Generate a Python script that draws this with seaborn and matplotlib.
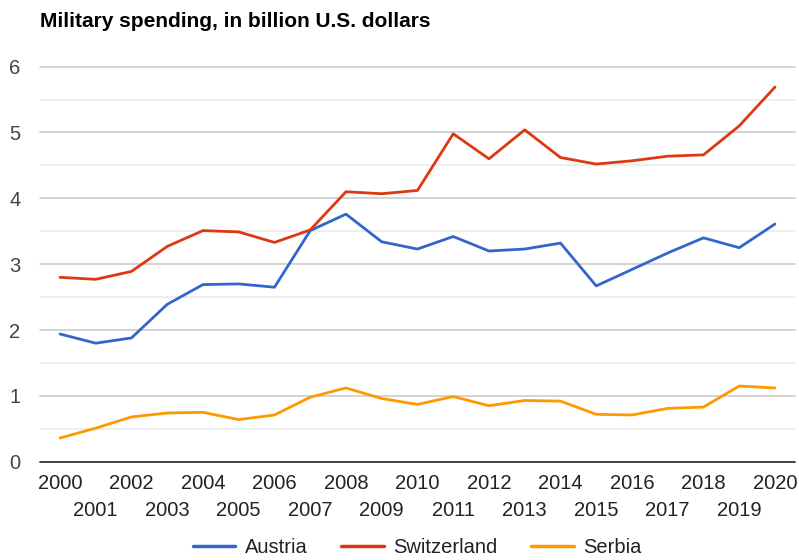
import pandas as pd
import matplotlib
matplotlib.use("Agg")
import matplotlib.pyplot as plt
import seaborn as sns

sns.set_theme(style="white")
plt.rcParams["font.family"] = ["Liberation Sans", "DejaVu Sans"]

years = list(range(2000, 2021))
austria = [1.94, 1.80, 1.88, 2.39, 2.69, 2.70, 2.65, 3.51, 3.76, 3.34, 3.23,
           3.42, 3.20, 3.23, 3.32, 2.67, 2.92, 3.17, 3.40, 3.25, 3.61]
switzerland = [2.80, 2.77, 2.89, 3.27, 3.51, 3.49, 3.33, 3.52, 4.10, 4.07, 4.12,
               4.98, 4.60, 5.04, 4.62, 4.52, 4.57, 4.64, 4.66, 5.10, 5.69]
serbia = [0.36, 0.51, 0.68, 0.74, 0.75, 0.64, 0.71, 0.98, 1.12, 0.96, 0.87,
          0.99, 0.85, 0.93, 0.92, 0.72, 0.71, 0.81, 0.83, 1.15, 1.12]

df = pd.DataFrame({"year": years, "Austria": austria,
                   "Switzerland": switzerland, "Serbia": serbia})
long_df = df.melt(id_vars="year", var_name="country", value_name="spending")

colors = {"Austria": "#3366cc", "Switzerland": "#dc3912", "Serbia": "#ff9900"}

fig = plt.figure(figsize=(7.99, 5.6), dpi=100)
ax = fig.add_axes([0.050, 0.1755, 0.945, 0.7055])

# gridlines: major at integers, lighter at halves
for v in [0.5, 1.5, 2.5, 3.5, 4.5, 5.5]:
    ax.axhline(v, color="#ebebeb", linewidth=1.2, zorder=0)
for v in [1, 2, 3, 4, 5, 6]:
    ax.axhline(v, color="#cccccc", linewidth=1.2, zorder=0, clip_on=False)
ax.axhline(0, color="#333333", linewidth=1.3, zorder=1, clip_on=False)

sns.lineplot(data=long_df, x="year", y="spending", hue="country",
             palette=colors, linewidth=2.0, ax=ax, legend=False, zorder=3)

ax.set_xlim(1999.44, 2020.56)
ax.set_ylim(0, 6)
ax.set_yticks(range(0, 7))
ax.set_yticklabels([str(v) for v in range(0, 7)], fontsize=14.5, color="#444444")

# even years on the first row, odd years staggered below
even_years = [y for y in years if y % 2 == 0]
odd_years = [y for y in years if y % 2 == 1]
ax.set_xticks(even_years)
ax.set_xticklabels([str(y) for y in even_years], fontsize=14.5, color="#222222")
ax.set_xticks(odd_years, minor=True)
ax.set_xticklabels([str(y) for y in odd_years], minor=True, fontsize=14.5, color="#222222")
ax.tick_params(axis="both", which="both", length=0)
ax.tick_params(axis="y", pad=14)
ax.tick_params(axis="x", which="major", pad=9)
ax.tick_params(axis="x", which="minor", pad=28)
ax.set_xlabel("")
ax.set_ylabel("")
for s in ax.spines.values():
    s.set_visible(False)

fig.text(0.050, 0.962, "Military spending, in billion U.S. dollars",
         fontsize=15, fontweight="bold", color="#000000", va="center", ha="left")

handles = [plt.Line2D([0], [0], color=colors[c], linewidth=2.5) for c in colors]
fig.legend(handles, list(colors.keys()), loc="center", bbox_to_anchor=(0.522, 0.022),
           ncol=3, frameon=False, fontsize=14.5, handlelength=2.1,
           columnspacing=1.7, handletextpad=0.45, labelcolor="#222222",
           borderpad=0.1)

fig.savefig("out.png", dpi=100)
